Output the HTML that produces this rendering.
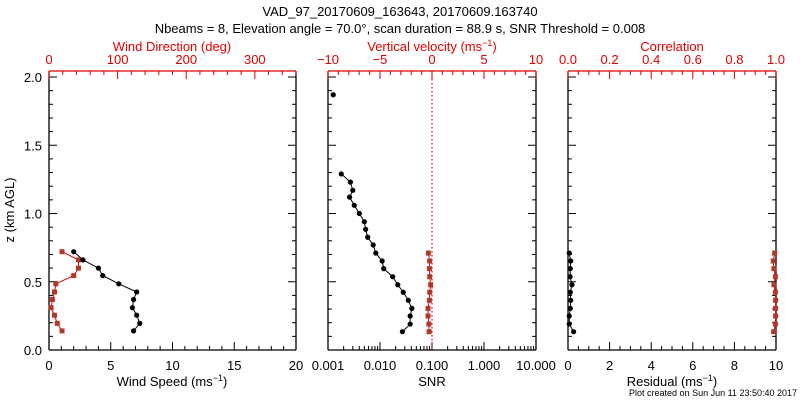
<!DOCTYPE html>
<html><head><meta charset="utf-8"><style>
html,body{margin:0;padding:0;background:#fff}
svg{display:block;font-family:"Liberation Sans",sans-serif}
</style></head><body>
<svg id="c" width="800" height="400" xmlns="http://www.w3.org/2000/svg">
<text x="400" y="16" text-anchor="middle" font-size="13">VAD_97_20170609_163643, 20170609.163740</text>
<text x="400" y="33" text-anchor="middle" font-size="13">Nbeams = 8, Elevation angle = 70.0°, scan duration = 88.9 s, SNR Threshold = 0.008</text>
<text x="797" y="396" text-anchor="end" font-size="9">Plot created on Sun Jun 11 23:50:40 2017</text>
</svg>
<script>
// data
const zHeights = [0.72,0.66,0.60,0.545,0.485,0.425,0.37,0.31,0.255,0.195,0.14];
const windSpeed = [2.0,2.75,4.0,4.35,5.65,7.1,6.85,6.75,7.1,7.35,6.85];
const windDir = [19,43,43,36,10,8,5,3,8,12,19];
const snrHeights = [1.87,1.29,1.23,1.17,1.12,1.06,1.0,0.94,0.884,0.826,0.769,0.71,0.652,0.596,0.537,0.478,0.423,0.364,0.305,0.249,0.19,0.134];
const snrValues = [0.00126,0.0018,0.0027,0.0030,0.0026,0.0032,0.0040,0.0050,0.0053,0.0058,0.0074,0.0083,0.011,0.0118,0.0175,0.022,0.028,0.035,0.041,0.038,0.038,0.027];
const wHeights = [0.71,0.652,0.596,0.537,0.478,0.423,0.364,0.305,0.249,0.19,0.134];
const vertVel = [-0.35,-0.22,-0.25,-0.22,-0.13,-0.22,-0.25,-0.38,-0.38,-0.3,-0.28];
const residual = [0.06,0.13,0.11,0.1,0.19,0.11,0.13,0.11,0.06,0.06,0.27];
const correlation = [0.994,0.987,0.99,0.997,0.99,0.997,0.998,0.998,0.998,0.997,0.989];
const zTicks = ['0.0','0.5','1.0','1.5','2.0'];

const NS='http://www.w3.org/2000/svg';
const svg=document.getElementById('c');
function el(tag,attrs,parent){const e=document.createElementNS(NS,tag);for(const k in attrs)e.setAttribute(k,attrs[k]);(parent||svg).appendChild(e);return e;}
const Y0=350, YT=71, PY=136.5;
const y=z=>Y0-PY*z;
const RED='#e00000', MRK='#b03a2a';

function panel(name,x0,x1){
  const g=el('g',{});
  
  
  el('line',{x1:x0,y1:Y0,x2:x1,y2:Y0,stroke:'#000','stroke-width':1.3},g);
  el('line',{x1:x0,y1:YT,x2:x0,y2:Y0,stroke:'#000','stroke-width':1.3},g);
  el('line',{x1:x1,y1:YT,x2:x1,y2:Y0,stroke:'#000','stroke-width':1.3},g);
  el('line',{x1:x0,y1:YT,x2:x1,y2:YT,stroke:RED,'stroke-width':1.3},g);
  for(let i=0;i<=20;i++){const yy=y(i*0.1);if(yy<YT)break;const L=i%5==0?8:4;
    el('line',{x1:x0,y1:yy,x2:x0+L,y2:yy,stroke:'#000'},g);
    el('line',{x1:x1,y1:yy,x2:x1-L,y2:yy,stroke:'#000'},g);}
  return g;
}
function linAxis(g,x0,x1,lo,hi,major,minor,yy,dir,color,labels,labelY){
  const sx=v=>x0+(v-lo)/(hi-lo)*(x1-x0);
  const n=Math.round((hi-lo)/minor);
  for(let i=0;i<=n;i++){const v=lo+i*minor;const isM=Math.abs(((v-lo)/major)-Math.round((v-lo)/major))<1e-6;
    el('line',{x1:sx(v),y1:yy,x2:sx(v),y2:yy+dir*(isM?8:4),stroke:color},g);}
  labels.forEach(l=>{const t=el('text',{x:sx(l.v),y:labelY,'text-anchor':'middle','font-size':13,fill:color},g);t.textContent=l.t;
    
    });
  return sx;
}
function txt(x,yy,s,color,name,size){const t=el('text',{x:x,y:yy,'text-anchor':'middle','font-size':size||13,fill:color});t.innerHTML=s;
  
  return t;}
function series(g,xs,ys,color,lineColor,shape,name,connect){
  const s=el('g',{},g);
  
  
  let pts=xs.map((v,i)=>[v,ys[i]]);
  if(connect) el('polyline',{points:(connect===true?pts:pts.slice(connect)).map(p=>p.join(',')).join(' '),fill:'none',stroke:lineColor,'stroke-width':1},s);
  pts.forEach(p=>{let m;
    if(shape==='sq') m=el('rect',{x:p[0]-2.5,y:p[1]-2.5,width:5,height:5,fill:color},s);
    else m=el('circle',{cx:p[0],cy:p[1],r:2.6,fill:color},s);
    
    });
}

// Panel 1
let g1=panel('wind-panel',49,296);
zTicks.forEach((t,i)=>{const e=el('text',{x:42,y:y(i*0.5)+5,'text-anchor':'end','font-size':13},g1);e.textContent=t;
  
  });
let ya=el('text',{x:14,y:210,'text-anchor':'middle','font-size':13,transform:'rotate(-90 14 210)'},g1);ya.textContent='z (km AGL)';


const sxWS=linAxis(g1,49,296,0,20,5,1,Y0,-1,'#000',[0,5,10,15,20].map(v=>({v,t:String(v)})),370);
const sxWD=linAxis(g1,49,296,0,360,100,20,YT,1,RED,[0,100,200,300].map(v=>({v,t:String(v)})),64);
txt(172,386,'Wind Speed (ms<tspan dy="-5" font-size="9">−1</tspan><tspan dy="5">)</tspan>','#000','x-axis-title-wind-speed');
txt(172,51,'Wind Direction (deg)',RED,'x-axis-title-wind-direction');
series(g1,windDir.map(sxWD),zHeights.map(y),MRK,RED,'sq','wind-direction-series',true);
series(g1,windSpeed.map(sxWS),zHeights.map(y),'#000','#000','c','wind-speed-series',true);

// Panel 2
let g2=panel('snr-panel',328,536);
const sxL=v=>328+(Math.log10(v)+3)*52;
for(let d=-3;d<=1;d++){for(let k=1;k<=9;k++){const v=k*Math.pow(10,d);if(v>10.0001)break;
  el('line',{x1:sxL(v),y1:Y0,x2:sxL(v),y2:Y0-(k==1?8:4),stroke:'#000'},g2);}}
['0.001','0.010','0.100','1.000','10.000'].forEach((t,i)=>{const e=el('text',{x:sxL(Math.pow(10,i-3)),y:370,'text-anchor':'middle','font-size':13},g2);e.textContent=t;
  
  });
const sxW=linAxis(g2,328,536,-10,10,5,1,YT,1,RED,[-10,-5,0,5,10].map(v=>({v,t:String(v).replace('-','−')})),64);
txt(432,386,'SNR','#000','x-axis-title-snr');
txt(432,51,'Vertical velocity (ms<tspan dy="-5" font-size="9">−1</tspan><tspan dy="5">)</tspan>',RED,'x-axis-title-vertical-velocity');
let zl=el('line',{x1:sxW(0),y1:YT,x2:sxW(0),y2:Y0,stroke:RED,'stroke-dasharray':'1.5,2.5','stroke-width':1.2},g2);


series(g2,vertVel.map(sxW),wHeights.map(y),MRK,RED,'sq','vertical-velocity-series',true);
series(g2,snrValues.map(sxL),snrHeights.map(y),'#000','#000','c','snr-series',1);

// Panel 3
let g3=panel('residual-panel',568,776);
const sxR=linAxis(g3,568,776,0,10,2,0.5,Y0,-1,'#000',[0,2,4,6,8,10].map(v=>({v,t:String(v)})),370);
const sxC=linAxis(g3,568,776,0,1,0.2,0.05,YT,1,RED,[0,0.2,0.4,0.6,0.8,1].map(v=>({v,t:v.toFixed(1)})),64);
txt(672,386,'Residual (ms<tspan dy="-5" font-size="9">−1</tspan><tspan dy="5">)</tspan>','#000','x-axis-title-residual');
txt(672,51,'Correlation',RED,'x-axis-title-correlation');
series(g3,correlation.map(sxC),wHeights.map(y),MRK,RED,'sq','correlation-series',true);
series(g3,residual.map(sxR),wHeights.map(y),'#000','#000','c','residual-series',true);
</script>
</body></html>
